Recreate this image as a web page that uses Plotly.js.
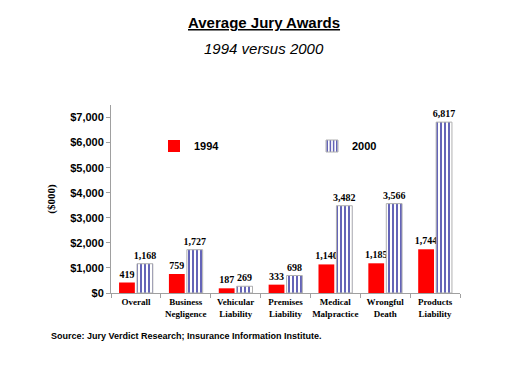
<!DOCTYPE html>
<html><head><meta charset="utf-8">
<script src="https://cdn.plot.ly/plotly-3.0.1.min.js"></script>
<style>html,body{margin:0;padding:0;background:#fff}#chart{width:526px;height:370px}</style>
</head><body><div id="chart"></div>
<script>
const categories = ["Overall", "Business<br>Negligence", "Vehicular<br>Liability", "Premises<br>Liability", "Medical<br>Malpractice", "Wrongful<br>Death", "Products<br>Liability"];
const values1994 = [419, 759, 187, 333, 1140, 1185, 1744];
const values2000 = [1168, 1727, 269, 698, 3482, 3566, 6817];
const yTickVals = [0, 1000, 2000, 3000, 4000, 5000, 6000, 7000];
const yTickText = ["$0", "$1,000", "$2,000", "$3,000", "$4,000", "$5,000", "$6,000", "$7,000"];
const fmt = v => v.toLocaleString("en-US");

const labelFont = {family: "Liberation Serif, Times New Roman, serif", size: 10, color: "#000"};

const traces = [
  {type: "bar", name: "<b>1994</b>", x: categories, y: values1994, legend: "legend",
   text: values1994.map(v => "<b>" + fmt(v) + "</b>"), textposition: "outside", cliponaxis: false,
   constraintext: "none", textangle: 0,
   textfont: labelFont, hoverinfo: "none",
   marker: {color: "#ff0000", line: {width: 0}}},
  {type: "bar", name: "<b>2000</b>", x: categories, y: values2000, legend: "legend2",
   text: values2000.map(v => "<b>" + fmt(v) + "</b>"), textposition: "outside", cliponaxis: false,
   constraintext: "none", textangle: 0,
   textfont: labelFont, hoverinfo: "none",
   marker: {color: "#ffffff", line: {width: 1, color: "#b0b0b0"},
            pattern: {shape: "|", fgcolor: "#22229a", bgcolor: "#ffffff", size: 4, solidity: 0.35}}}
];

const legFont = {family: "Liberation Sans, Arial, sans-serif", size: 11, color: "#000"};
const layout = {
  width: 526, height: 370,
  margin: {l: 111, r: 66, t: 105, b: 77},
  paper_bgcolor: "#fff", plot_bgcolor: "#fff",
  barmode: "group", bargap: 0.28, bargroupgap: 0.12,
  showlegend: true,
  legend: {x: 0, y: 0, xanchor: "left", yanchor: "middle", bgcolor: "rgba(0,0,0,0)",
           font: legFont, itemwidth: 30, tracegroupgap: 0},
  legend2: {x: 0, y: 0, xanchor: "left", yanchor: "middle", bgcolor: "rgba(0,0,0,0)",
           font: legFont, itemwidth: 30, tracegroupgap: 0},
  xaxis: {type: "category", showline: true, linecolor: "#a0a0a0", linewidth: 1,
          ticks: "outside", tickson: "boundaries", ticklen: 4, tickcolor: "#a0a0a0", tickangle: 0,
          tickfont: {family: "Liberation Serif, Times New Roman, serif", size: 9, color: "#000", weight: "bold"},
          showgrid: false, fixedrange: true},
  yaxis: {range: [0, 7500], tickvals: yTickVals, ticktext: yTickText,
          showline: true, linecolor: "#a0a0a0", linewidth: 1,
          ticks: "outside", ticklen: 4, tickcolor: "#a0a0a0", showgrid: false, zeroline: false,
          tickfont: {family: "Liberation Sans, Arial, sans-serif", size: 11, color: "#000", weight: "bold"},
          title: {text: "<b>($000)</b>", standoff: 12,
                  font: {family: "Liberation Serif, Times New Roman, serif", size: 11, color: "#000"}}},
  annotations: [
    {text: "<b><u>Average Jury Awards</u></b>", xref: "paper", yref: "paper", x: 0.44, y: 1, xanchor: "center",
     yanchor: "middle", showarrow: false, font: {family: "Liberation Sans, Arial, sans-serif", size: 15, color: "#000"}},
    {text: "<i>1994 versus 2000</i>", showarrow: false, xref: "paper", yref: "paper", x: 0.44, y: 1, xanchor: "center",
     yanchor: "middle", font: {family: "Liberation Sans, Arial, sans-serif", size: 15, color: "#000"}},
    {text: "<b>Source: Jury Verdict Research; Insurance Information Institute.</b>", showarrow: false,
     xref: "paper", yref: "paper", x: 0, y: 0, xanchor: "left", yanchor: "middle",
     font: {family: "Liberation Sans, Arial, sans-serif", size: 9, color: "#000"}}
  ]
};
// position annotations/legends in pixels relative to plot area
const plotH = 370 - 105 - 77, plotW = 526 - 111 - 66;
const py = px => (370 - 77 - px) / plotH;
const pxX = px => (px - 111) / plotW;
layout.annotations[0].x = pxX(264); layout.annotations[0].y = py(22);
layout.annotations[1].x = pxX(264); layout.annotations[1].y = py(48);
layout.annotations[2].x = pxX(49); layout.annotations[2].y = py(336);
layout.legend.x = pxX(154); layout.legend.y = py(146);
layout.legend2.x = pxX(312); layout.legend2.y = py(146);

Plotly.newPlot("chart", traces, layout, {displayModeBar: false, staticPlot: true});
</script></body></html>
